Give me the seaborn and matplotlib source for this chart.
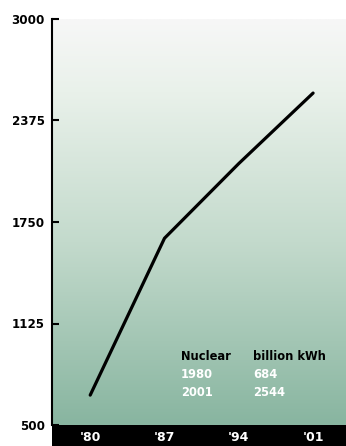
import numpy as np
import pandas as pd
import matplotlib
matplotlib.use("Agg")
import matplotlib.pyplot as plt
from matplotlib.colors import LinearSegmentedColormap
from matplotlib.patches import Rectangle
import seaborn as sns

# Data
years = [1980, 1987, 1994, 2001]
generation = [684, 1650, 2110, 2544]
tick_years = [1980, 1987, 1994, 2001]
tick_labels = ["'80", "'87", "'94", "'01"]
y_ticks = [500, 1125, 1750, 2375, 3000]
legend_rows = [("1980", "684"), ("2001", "2544")]

sns.set_style("white")
plt.rcParams['font.family'] = ['DejaVu Sans']

W, H = 346, 446
fig = plt.figure(figsize=(W / 100, H / 100), dpi=100)
ax = fig.add_axes([52 / W, (H - 425) / H, 1 - 52 / W, (425 - 19) / H])
ax.set_axisbelow(False)

xlim = (1976.4, 2004.1)
ylim = (500, 3000)

# gradient background
cmap = LinearSegmentedColormap.from_list(
    "bg", [(0.0, "#88b5a0"), (0.45, "#c3dacc"), (0.82, "#e9f1ea"), (1.0, "#f7f7f7")])
grad = np.linspace(0, 1, 256).reshape(-1, 1)
ax.imshow(grad, cmap=cmap, origin="lower", aspect="auto",
          extent=[xlim[0], xlim[1], ylim[0], ylim[1]], zorder=0)

df = pd.DataFrame({"year": years, "kwh": generation})
sns.lineplot(data=df, x="year", y="kwh", ax=ax, color="black", linewidth=2.3, zorder=3)

ax.set_xlim(*xlim)
ax.set_ylim(*ylim)
ax.set_xlabel("")
ax.set_ylabel("")

for s in ["top", "right", "bottom"]:
    ax.spines[s].set_visible(False)
ax.spines["left"].set_color("black")
ax.spines["left"].set_linewidth(1.5)

ax.set_yticks(y_ticks)
ax.set_yticklabels([str(v) for v in y_ticks], fontsize=8.6, fontweight="bold", color="black")
ax.tick_params(axis="y", direction="in", length=5, width=1.5, color="black", pad=5, left=True)

ax.set_xticks(tick_years)
ax.set_xticklabels(tick_labels, fontsize=9, fontweight="bold", color="white")
ax.tick_params(axis="x", length=0, pad=4)

# black band under the axis (axes coords, unclipped, below tick labels)
band_h = 22 / (425 - 19)
ax.add_patch(Rectangle((0, -band_h), 1, band_h, transform=ax.transAxes,
                       facecolor="black", edgecolor="none", clip_on=False, zorder=1))

# annotation block
tx1, tx2 = 181 / W, 253 / W
fig.text(tx1, 1 - 356 / H, "Nuclear", fontsize=8.3, fontweight="bold", color="black", va="center")
fig.text(tx2, 1 - 356 / H, "billion kWh", fontsize=8.3, fontweight="bold", color="black", va="center")
for i, (yr, val) in enumerate(legend_rows):
    yy = 1 - (375 + 18 * i) / H
    fig.text(tx1, yy, yr, fontsize=8.3, fontweight="bold", color="white", va="center")
    fig.text(tx2, yy, val, fontsize=8.3, fontweight="bold", color="white", va="center")

fig.savefig("out.png", dpi=100)
